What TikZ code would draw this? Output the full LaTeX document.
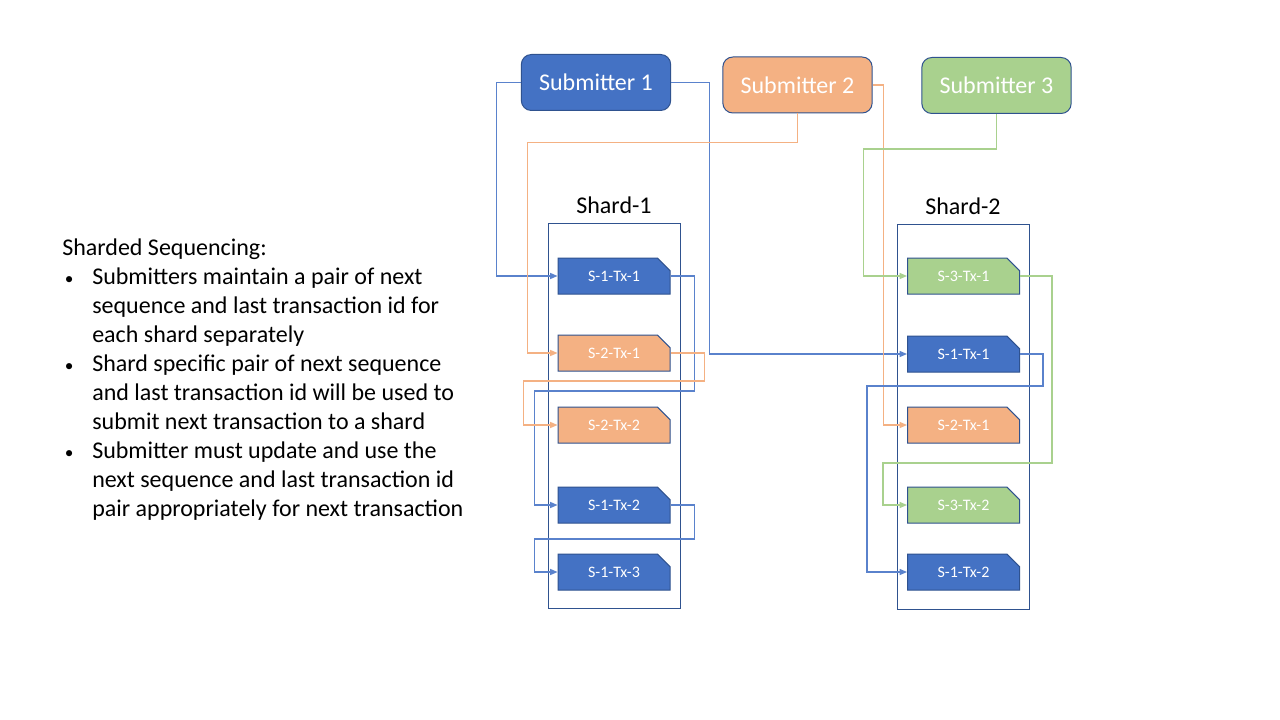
\documentclass[tikz,border=0pt]{standalone}
\usepackage{fontspec}
\setmainfont{Carlito}
\usetikzlibrary{arrows.meta,shapes.misc}
\definecolor{cblue}{HTML}{4472C4}
\definecolor{corange}{HTML}{F4B183}
\definecolor{cgreen}{HTML}{A9D18E}
\definecolor{cedge}{HTML}{2F528F}
\definecolor{lblue}{HTML}{5A82CC}
\tikzset{
  submitter/.style={draw=cedge, line width=0.75pt, rounded corners=7.5pt, text=white,
    minimum width=112pt, minimum height=42pt, inner sep=0pt, font=\fontsize{18}{21}\selectfont},
  txbox/.style={chamfered rectangle, chamfered rectangle corners=north east,
    chamfered rectangle xsep=5.5pt, chamfered rectangle ysep=5.5pt,
    draw=cedge, line width=0.75pt, text=white, inner sep=0pt,
    minimum width=84pt, minimum height=27pt, font=\fontsize{12}{14}\selectfont},
  shardbox/.style={draw=cedge, line width=0.75pt, minimum width=99pt, minimum height=288pt, inner sep=0pt},
  title/.style={font=\fontsize{18}{21}\selectfont, inner sep=0pt},
  link/.style={line width=0.9pt, -{Triangle[length=5.5pt,width=4.5pt]}},
  bluelink/.style={link, draw=lblue},
  orangelink/.style={link, draw=corange},
  greenlink/.style={link, draw=cgreen},
}
\newcommand{\bul}{\hspace{2pt}{\fontsize{13}{13}\selectfont •}}
\begin{document}
\begin{tikzpicture}[x=0.75pt, y=-0.75pt]
\useasboundingbox[fill=white] (0,0) rectangle (1280,720);

% explanatory text
\node[anchor=base west, inner sep=0pt, align=left] (notes) at (62,255) {%
  \fontsize{18}{21.8}\selectfont
  \begin{tabular}[t]{@{}p{22.5pt}@{}l@{}}
  \multicolumn{2}{@{}l@{}}{Sharded Sequencing:}\\
  \bul & Submitters maintain a pair of next\\
   & sequence and last transaction id for\\
   & each shard separately\\
  \bul & Shard specific pair of next sequence\\
   & and last transaction id will be used to\\
   & submit next transaction to a shard\\
  \bul & Submitter must update and use the\\
   & next sequence and last transaction id\\
   & pair appropriately for next transaction
  \end{tabular}};

% submitters
\node[submitter, fill=cblue] (s1) at (596,82.5) {Submitter 1};
\node[submitter, fill=corange] (s2) at (797.5,85) {Submitter 2};
\node[submitter, fill=cgreen] (s3) at (996.5,85.5) {Submitter 3};

% shards
\node[title] (t1) at (614,205) {Shard-1};
\node[title] (t2) at (963,206) {Shard-2};
\node[shardbox] (sh1) at (614,416) {};
\node[shardbox] (sh2) at (963.5,417) {};

% transactions in shard 1
\node[txbox, fill=cblue] (a11) at (614,276) {S-1-Tx-1};
\node[txbox, fill=corange] (a21) at (614,353) {S-2-Tx-1};
\node[txbox, fill=corange] (a22) at (614,425) {S-2-Tx-2};
\node[txbox, fill=cblue] (a12) at (614,505) {S-1-Tx-2};
\node[txbox, fill=cblue] (a13) at (614,572) {S-1-Tx-3};

% transactions in shard 2
\node[txbox, fill=cgreen] (b31) at (963.5,276) {S-3-Tx-1};
\node[txbox, fill=cblue] (b11) at (963.5,354) {S-1-Tx-1};
\node[txbox, fill=corange] (b21) at (963.5,425) {S-2-Tx-1};
\node[txbox, fill=cgreen] (b32) at (963.5,505) {S-3-Tx-2};
\node[txbox, fill=cblue] (b12) at (963.5,572) {S-1-Tx-2};

% submitter to first transaction
\draw[bluelink] (s1.west) -- ++(-24,0) |- (a11.west);
\draw[bluelink] (s1.east) -- ++(38,0) |- (b11.west);
\draw[orangelink] (s2.south) -- ++(0,29) -- ++(-270,0) |- (a21.west);
\draw[orangelink] (s2.east) -- ++(11,0) |- (b21.west);
\draw[greenlink] (s3.south) -- ++(0,35) -- ++(-133,0) |- (b31.west);

% chaining within shard 1
\draw[bluelink] (a11.east) -- ++(24,0) -- ++(0,115) -- ++(-160,0) |- (a12.west);
\draw[orangelink] (a21.east) -- ++(34,0) -- ++(0,28) -- ++(-181,0) |- (a22.west);
\draw[bluelink] (a12.east) -- ++(24,0) -- ++(0,34) -- ++(-160,0) |- (a13.west);

% chaining within shard 2
\draw[bluelink] (b11.east) -- ++(23,0) -- ++(0,32) -- ++(-176,0) |- (b12.west);
\draw[greenlink] (b31.east) -- ++(32,0) -- ++(0,187) -- ++(-169,0) |- (b32.west);
\end{tikzpicture}
\end{document}
